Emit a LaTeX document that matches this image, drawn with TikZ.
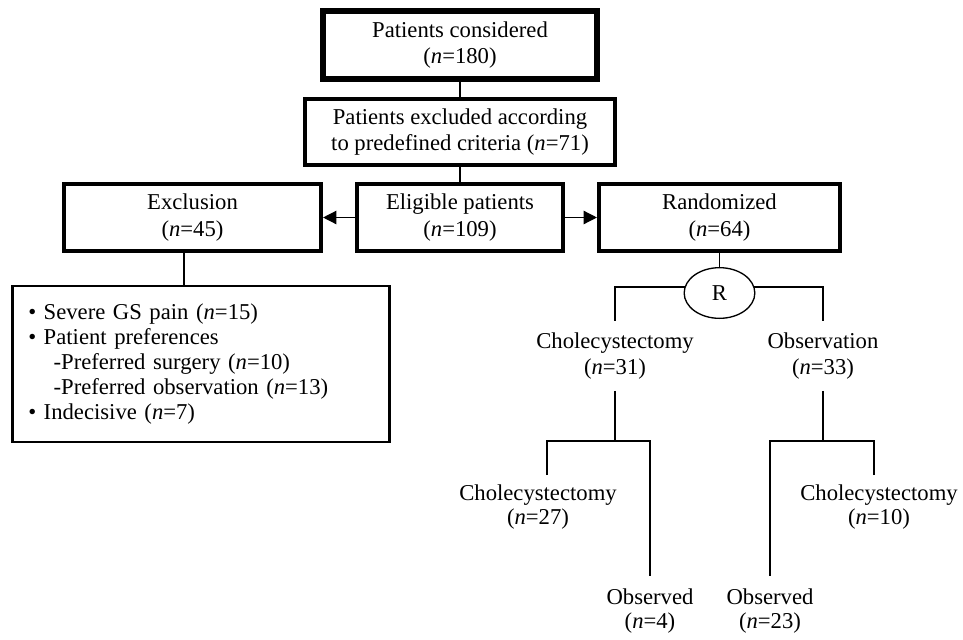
\documentclass[tikz,border=0pt]{standalone}
\usepackage{fontspec}
\setmainfont{Liberation Serif}
\usetikzlibrary{arrows.meta,shapes.geometric}
\newcommand{\nn}{\textit{n}}
\begin{document}
\begin{tikzpicture}[x=0.75pt,y=-0.75pt,
  basebox/.style={draw, rectangle, align=center, inner sep=0pt, font=\fontsize{17}{20}\selectfont},
  thickbox/.style={basebox, line width=4.8pt},
  medbox/.style={basebox, line width=2.8pt},
  listbox/.style={draw, rectangle, align=left, inner xsep=12pt, inner ysep=0pt, anchor=west, line width=1.9pt, text width=259pt, minimum height=117pt, font=\fontsize{17}{18.75}\selectfont},
  lbl/.style={align=center, inner xsep=0pt, inner ysep=8.5pt, font=\fontsize{17}{19.5}\selectfont},
  lbllow/.style={align=center, inner xsep=0pt, inner ysep=9.5pt, font=\fontsize{17}{17.5}\selectfont},
  conn/.style={line width=1pt},
  arr/.style={conn, -{Triangle[length=10pt,width=10pt]}}]
\useasboundingbox (0,0) rectangle (963,639);

\node[thickbox, minimum width=205.5pt, minimum height=51pt] (top) at (460,45) {Patients considered\\(\nn=180)};
\node[medbox, minimum width=232.5pt, minimum height=49.5pt] (excl) at (460,132) {Patients excluded according\\to predefined criteria (\nn=71)};
\node[medbox, minimum width=193pt, minimum height=50pt] (exclu) at (192.5,217.5) {Exclusion\\(\nn=45)};
\node[medbox, minimum width=154pt, minimum height=50pt] (elig) at (460,217.5) {Eligible patients\\(\nn=109)};
\node[medbox, minimum width=181pt, minimum height=50pt] (rand) at (719.5,217.5) {Randomized\\(\nn=64)};

\node[listbox] (list) at (11,364) {\textbullet\ Severe GS pain (\nn=15)\\
\textbullet\ Patient preferences\\
\hspace*{19pt}-Preferred surgery (\nn=10)\\
\hspace*{19pt}-Preferred observation (\nn=13)\\
\textbullet\ Indecisive (\nn=7)};

\node[draw, ellipse, line width=1pt, minimum width=53pt, minimum height=38pt, inner sep=0pt, font=\fontsize{17}{20}\selectfont] (R) at (719.5,293) {R};

\node[lbl] (chol31) at (615,356) {Cholecystectomy\\(\nn=31)};
\node[lbl] (obs33) at (823,356) {Observation\\(\nn=33)};
\node[lbllow] (chol27) at (538,507) {Cholecystectomy\\(\nn=27)};
\node[lbllow] (obs4) at (650,611) {Observed\\(\nn=4)};
\node[lbllow] (chol10) at (879,507) {Cholecystectomy\\(\nn=10)};
\node[lbllow] (obs23) at (770,611) {Observed\\(\nn=23)};

\coordinate (jL) at (616,441);
\coordinate (jR) at (822,441);
\coordinate (c27) at (547,475);
\coordinate (c10) at (874,475);

\draw[conn] (top.south) -- (excl.north);
\draw[conn] (excl.south) -- (elig.north);
\draw[arr] (elig.west) -- (exclu.east);
\draw[arr] (elig.east) -- (rand.west);
\draw[conn] ([xshift=-6.4pt]exclu.south) -- ([xshift=-6.4pt]exclu.south |- list.north);
\draw[conn] (rand.south) -- (R.north);
\draw[conn] (R.170) -| (chol31.north);
\draw[conn] (R.10) -| (obs33.north);
\draw[conn] (chol31.south) -- (chol31.south |- jL);
\draw[conn] (obs33.south) -- (obs33.south |- jR);
\draw[conn] (c27) |- (jL) -| (obs4.north);
\draw[conn] (c10) |- (jR) -| (obs23.north);
\end{tikzpicture}
\end{document}
